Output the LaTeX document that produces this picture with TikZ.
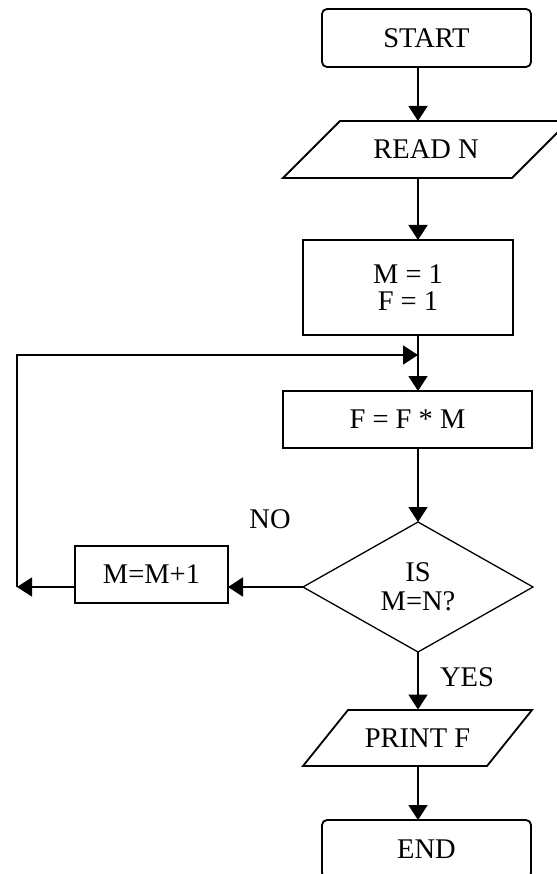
\documentclass[tikz,border=0pt]{standalone}
\usepackage{fontspec}
\setmainfont{Liberation Serif}
\usetikzlibrary{arrows.meta,shapes.geometric,calc}
\begin{document}
\begin{tikzpicture}[x=1pt,y=-1pt,
  every node/.style={font=\fontsize{28.5}{29}\selectfont, inner sep=0pt, outer sep=0pt},
  ln/.style={line width=1.8pt, black},
  arr/.style={ln, -{Triangle[length=15pt,width=19pt]}},
  termbox/.style={draw, line width=1.8pt, rounded corners=5pt, minimum width=209pt, minimum height=58pt},
  procbox/.style={draw, line width=1.8pt, minimum height=57pt},
  iobody/.style={minimum height=57pt},
  decbox/.style={draw, line width=1.3pt, diamond, minimum width=230pt, minimum height=130pt, align=center},
  lbl/.style={}
]
\useasboundingbox (0,0) rectangle (556,874);
\coordinate (axis) at (418,0);

% START
\node[termbox] (start) at (426.5,38) {START};

% READ N (parallelogram)
\node[iobody, minimum width=229pt] (read) at (426,149.5) {READ N};
\draw[ln] (340,121) -- (569,121) -- (512,178) -- (283,178) -- cycle;

% M = 1, F = 1
\node[procbox, minimum width=210pt, minimum height=95pt, align=center] (init) at (408,287.5) {M = 1\\[-2pt]F = 1};

% F = F * M
\node[procbox, minimum width=249pt] (fm) at (407.5,419.5) {F = F * M};

% decision
\node[decbox] (dec) at (418,587) {IS\\[0pt]M=N?};

% M=M+1
\node[procbox, minimum width=153pt] (inc) at (151.5,574.5) {M=M+1};

% PRINT F (parallelogram)
\node[iobody, minimum width=184pt] (print) at (417.5,738) {PRINT F};
\draw[ln] (348,710) -- (532,710) -- (487,766) -- (303,766) -- cycle;

% END
\node[termbox] (end) at (426.5,849) {END};

% labels
\node[lbl] (no) at (270,519) {NO};
\node[lbl] (yes) at (467,677) {YES};

% loop coordinates
\coordinate (lpb) at (17,355);
\coordinate (lpa) at (lpb |- dec.west);
\coordinate (lpc) at (418,355);

% connectors
\draw[arr] (start.south -| axis) -- (read.north -| axis);
\draw[arr] (read.south -| axis) -- (init.north -| axis);
\draw[arr] (init.south -| axis) -- (fm.north -| axis);
\draw[arr] (fm.south -| axis) -- (dec.north);
\draw[arr] (dec.west) -- (inc.east |- dec.west);
\draw[arr] (inc.west |- dec.west) -- (lpa);
\draw[arr] (lpa) -- (lpb) -- (lpc);
\draw[arr] (dec.south) -- (print.north -| axis);
\draw[arr] (print.south -| axis) -- (end.north -| axis);
\end{tikzpicture}
\end{document}
